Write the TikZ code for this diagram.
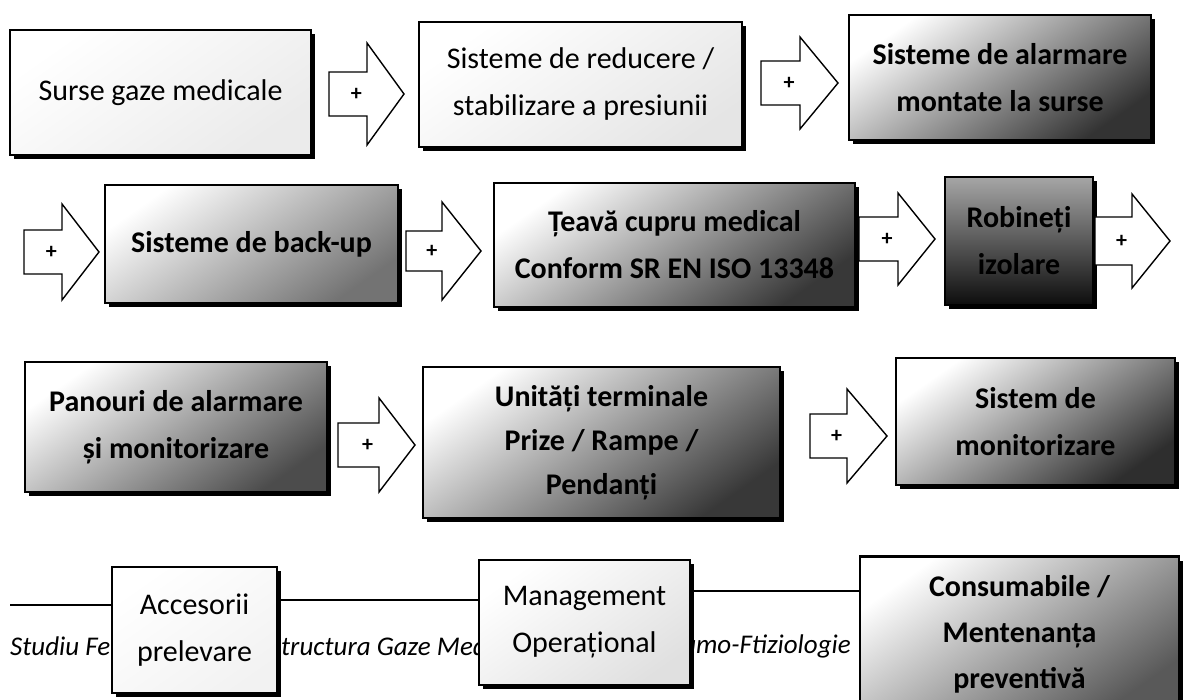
\documentclass[tikz,border=0pt]{standalone}
\usepackage{fontspec}
\setmainfont{Carlito}
\usetikzlibrary{shadows}
\newcommand{\blkarrow}[7]{%
  \draw[arrowline] (#2,{#5-#6}) -- (#3,{#5-#6}) -- (#3,{#5-#7}) -- (#4,#5) -- (#3,{#5+#7}) -- (#3,{#5+#6}) -- (#2,{#5+#6}) -- cycle;
  \node[plusmark] (#1) at ({#2+0.72*(#3-#2)},#5) {+};}
\tikzset{
  gbox/.style={draw=black, line width=2.6pt, align=center, inner sep=3pt,
    font=\fontsize{30}{47}\selectfont,
    drop shadow={shadow xshift=4pt, shadow yshift=-4pt, fill=black, opacity=1},
    top color=white, bottom color=black!#1, shading angle=35},
  dbox/.style={gbox=#1, font=\fontsize{30}{47}\selectfont\bfseries},
  arrowline/.style={draw=black, line width=1.4pt, fill=white, line join=miter},
  plusmark/.style={font=\fontsize{22}{22}\selectfont\bfseries, inner sep=1pt},
  footer/.style={font=\fontsize{27}{27}\selectfont\itshape, inner sep=0pt},
  link/.style={draw=black, line width=1.4pt}
}
\begin{document}
\begin{tikzpicture}[x=1pt,y=-1pt]
\useasboundingbox[fill=white] (0,0) rectangle (1185,700);

% footer text (partly hidden by boxes)
\node[footer, anchor=west] (f1) at (10,646) {Studiu Fe};
\node[footer, anchor=west] (f2) at (281,646) {tructura Gaze Med};
\node[footer, anchor=east] (f3) at (851,646) {umo-Ftiziologie};

% row 1
\node[gbox=8, minimum width=301pt, minimum height=125pt] (b1) at (160.5,92.5) {Surse gaze medicale};
\blkarrow{a1}{329}{367}{404}{94}{22}{51}
\node[gbox=10, minimum width=323pt, minimum height=125pt] (b2) at (580.5,84.5) {Sisteme de reducere /\\stabilizare a presiunii};
\blkarrow{a2}{761}{800}{838}{83}{22}{46}
\node[dbox=80, minimum width=302pt, minimum height=125pt] (b3) at (1000,77.5) {Sisteme de alarmare\\montate la surse};

% row 2
\blkarrow{a3}{24}{62}{99}{252}{22}{48}
\node[dbox=55, minimum width=293pt, minimum height=118pt] (b4) at (251.5,244) {Sisteme de back-up};
\blkarrow{a4}{406}{442}{481}{251}{20}{49}
\node[dbox=78, minimum width=361pt, minimum height=124pt] (b5) at (674.5,245) {Țeavă cupru medical\\Conform SR EN ISO 13348};
\blkarrow{a5}{859}{898}{935}{239}{22}{46}
\node[dbox=95, top color=black!35, minimum width=148pt, minimum height=128pt] (b6) at (1019,241) {Robineți\\izolare};
\blkarrow{a6}{1095}{1132}{1170}{241}{24}{47}

% row 3
\node[dbox=70, minimum width=302pt, minimum height=130pt] (b7) at (176,427) {Panouri de alarmare\\și monitorizare};
\blkarrow{a7}{338}{379}{415}{445}{22}{47}
\node[dbox=78, minimum width=357pt, minimum height=151pt, font=\fontsize{30}{44}\selectfont\bfseries] (b8) at (601.5,442.5) {Unități terminale\\Prize / Rampe /\\Pendanți};
\blkarrow{a8}{810}{847}{887}{436}{22}{47}
\node[dbox=82, minimum width=279pt, minimum height=127pt] (b9) at (1035.5,421.5) {Sistem de\\monitorizare};

% row 4
\coordinate (l0) at (10,605);
\node[gbox=5, minimum width=165pt, minimum height=126pt] (b10) at (194.5,630) {Accesorii\\prelevare};
\node[gbox=12, minimum width=211pt, minimum height=125pt] (b11) at (584.5,622.5) {Management\\Operațional};
\node[dbox=65, minimum width=319pt, minimum height=155pt, font=\fontsize{30}{46}\selectfont\bfseries] (b12) at (1019.5,634) {Consumabile /\\Mentenanța\\preventivă};
\draw[link] (l0) -- (l0 -| b10.west);
\draw[link] (b10.east |- 0,600) -- (b11.west |- 0,600);
\draw[link] (b11.east |- 0,591) -- (b12.west |- 0,591);
\end{tikzpicture}
\end{document}
